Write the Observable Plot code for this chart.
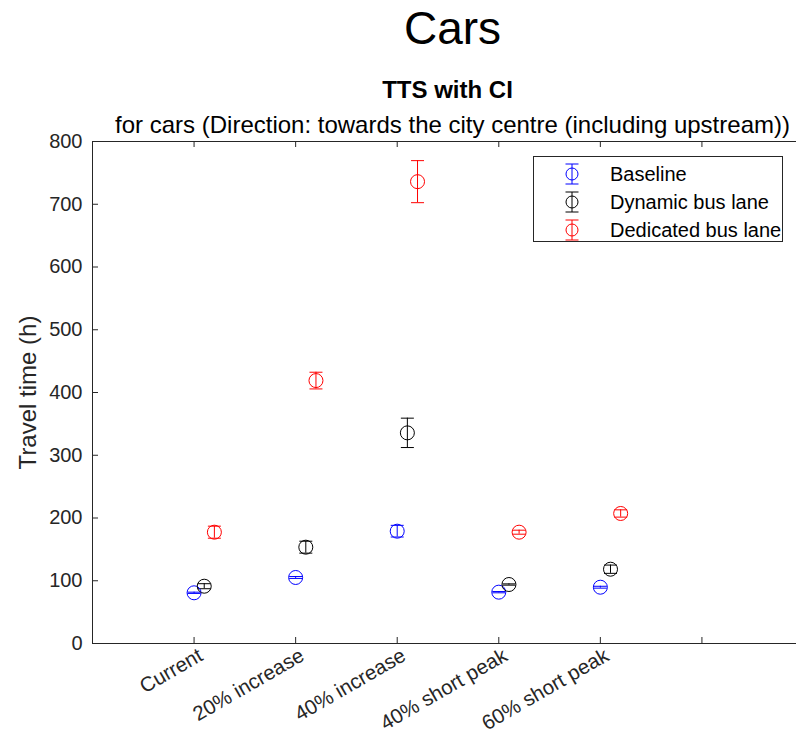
<!DOCTYPE html>
<html><head><meta charset="utf-8">
<script src="https://cdn.jsdelivr.net/npm/d3@7"></script>
<script src="https://cdn.jsdelivr.net/npm/@observablehq/plot@0.6"></script>
<style>
body{margin:0;background:#fff;font-family:"Liberation Sans",Arial,sans-serif;}
#wrap{position:relative;width:796px;height:748px;overflow:hidden;}
#legend{position:absolute;left:533px;top:156px;width:250px;height:86px;border:1px solid #262626;box-sizing:border-box;background:#fff;}
.row{position:absolute;left:0;height:28px;width:248px;}
.row svg{position:absolute;left:24px;top:0;}
.row span{position:absolute;left:76px;top:4px;font-size:20px;line-height:20px;color:#000;white-space:nowrap;}
</style></head><body><div id="wrap"></div>
<script>
const categories = ["Current", "20% increase", "40% increase", "40% short peak", "60% short peak"];
const seriesNames = ["Baseline", "Dynamic bus lane", "Dedicated bus lane"];
const seriesColors = ["#0000ff", "#000000", "#ff0000"];
const baselineMean = [80.8, 105.2, 179, 81.8, 89.7];
const baselineCI = [1, 1.5, 9.3, 1, 1.5];
const dynamicMean = [91.3, 153.5, 335.7, 94, 118.4];
const dynamicCI = [4, 9.5, 23.4, 1, 6.6];
const dedicatedMean = [177.4, 419, 736, 177.4, 207.2];
const dedicatedCI = [9.6, 13.3, 33.5, 3.2, 5.8];
const seriesOffset = [0, 0.1, 0.2];
const yTicks = [0, 100, 200, 300, 400, 500, 600, 700, 800];
const xTicks = [0, 1, 2, 3, 4, 5, 6, 7];
const titleText = "Cars";
const axTitle = "TTS with CI";
const axSubtitle = "for cars (Direction: towards the city centre (including upstream))";
const yLabel = "Travel time (h)";

const means = [baselineMean, dynamicMean, dedicatedMean];
const cis = [baselineCI, dynamicCI, dedicatedCI];
const rows = [];
seriesNames.forEach((s, si) => categories.forEach((c, ci) => {
  const m = means[si][ci], e = cis[si][ci];
  rows.push({series: s, pos: ci + 1 + seriesOffset[si], mean: m, lo: m - e, hi: m + e});
}));

const W = 796, H = 748, mL = 92, mT = 141, mB = 105;
const xRange = [92, 803];
const pxX = (xRange[1] - xRange[0]) / (xTicks[xTicks.length - 1] - xTicks[0]);
const pxY = (H - mT - mB) / (yTicks[yTicks.length - 1] - yTicks[0]);
const tickLen = 6;
const capHalf = 6.5;
const cap = {draw(ctx) { ctx.moveTo(-capHalf, 0); ctx.lineTo(capHalf, 0); }};
const axisColor = "#262626";
const font = "Liberation Sans, Arial, sans-serif";

const chart = Plot.plot({
  width: W, height: H,
  marginLeft: mL, marginRight: 0, marginTop: mT, marginBottom: mB,
  style: {fontFamily: font, background: "#fff", overflow: "hidden"},
  x: {domain: [xTicks[0], xTicks[xTicks.length - 1]], range: xRange, axis: null},
  y: {domain: [yTicks[0], yTicks[yTicks.length - 1]], axis: null},
  color: {domain: seriesNames, range: seriesColors},
  marks: [
    // axes box
    Plot.ruleX([xTicks[0]], {stroke: axisColor}),
    Plot.ruleY([yTicks[0], yTicks[yTicks.length - 1]], {stroke: axisColor}),
    // inward ticks
    Plot.ruleY(yTicks, {y: d => d, x1: xTicks[0], x2: xTicks[0] + tickLen / pxX, stroke: axisColor}),
    Plot.ruleX(xTicks, {x: d => d, y1: yTicks[0], y2: yTicks[0] + tickLen / pxY, stroke: axisColor}),
    Plot.ruleX(xTicks, {x: d => d, y1: yTicks[yTicks.length - 1] - tickLen / pxY, y2: yTicks[yTicks.length - 1], stroke: axisColor}),
    // y tick labels
    Plot.text(yTicks, {y: d => d, frameAnchor: "left", text: d => String(d), textAnchor: "end", dx: -10, fontSize: 20, fill: axisColor}),
    // x tick labels
    Plot.text(categories, {x: (d, i) => i + 1, frameAnchor: "bottom", text: d => d, rotate: -30, textAnchor: "end", dx: 10, dy: 16, fontSize: 20.5, fill: axisColor}),
    // y label
    Plot.text([yLabel], {frameAnchor: "left", text: d => d, rotate: -90, textAnchor: "middle", dx: -64, fontSize: 24, fill: axisColor}),
    // titles
    Plot.text([titleText], {frameAnchor: "top", text: d => d, textAnchor: "middle", dx: 8, dy: -130, fontSize: 46, fill: "#000"}),
    Plot.text([axTitle], {frameAnchor: "top", text: d => d, textAnchor: "middle", dx: 3, dy: -61, fontSize: 24, fontWeight: "bold", fill: "#000"}),
    Plot.text([axSubtitle], {frameAnchor: "top", text: d => d, textAnchor: "middle", dx: 8, dy: -26, fontSize: 24, fill: "#000"}),
    // error bars
    Plot.ruleX(rows, {x: "pos", y1: "lo", y2: "hi", stroke: "series", strokeWidth: 1}),
    Plot.dot(rows, {x: "pos", y: "hi", symbol: cap, stroke: "series", fill: "none", strokeWidth: 1}),
    Plot.dot(rows, {x: "pos", y: "lo", symbol: cap, stroke: "series", fill: "none", strokeWidth: 1}),
    Plot.dot(rows, {x: "pos", y: "mean", r: 7, stroke: "series", fill: "none", strokeWidth: 1})
  ]
});

const wrap = document.getElementById("wrap");
wrap.appendChild(chart);

const legend = document.createElement("div");
legend.id = "legend";
seriesNames.forEach((s, i) => {
  const row = document.createElement("div");
  row.className = "row";
  row.style.top = (3 + i * 28) + "px";
  const c = seriesColors[i];
  row.innerHTML = `<svg width="28" height="28" viewBox="-14 -14 28 28"><line x1="0" y1="-10" x2="0" y2="10" stroke="${c}"/><line x1="-6.5" y1="-10" x2="6.5" y2="-10" stroke="${c}"/><line x1="-6.5" y1="10" x2="6.5" y2="10" stroke="${c}"/><circle r="6" fill="none" stroke="${c}"/></svg><span></span>`;
  row.querySelector("span").textContent = s;
  legend.appendChild(row);
});
wrap.appendChild(legend);
</script></body></html>
